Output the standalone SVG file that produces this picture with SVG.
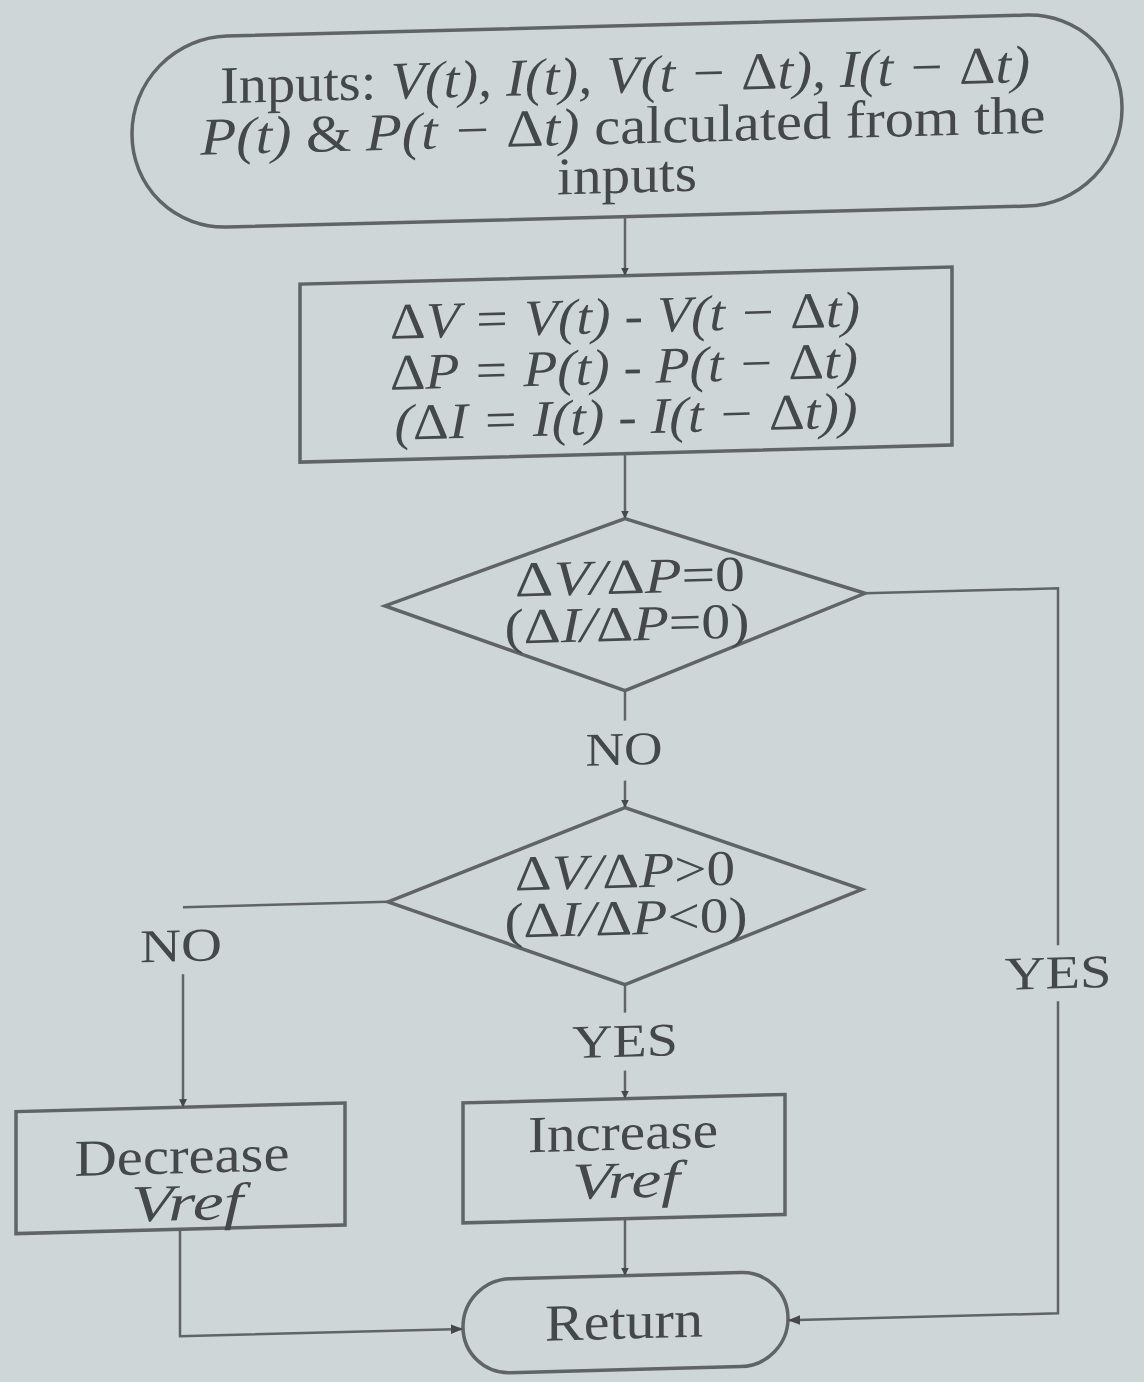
<svg xmlns="http://www.w3.org/2000/svg" width="1144" height="1382" viewBox="0 0 1144 1382">
<defs>
<style>
.shape{fill:none;stroke:#606467;stroke-width:3.5}
.line{fill:none;stroke:#606467;stroke-width:2.5}
.t{font-family:"Liberation Serif","Times New Roman",serif;fill:#45484b;text-anchor:middle}
.i{font-style:italic}
.n{font-style:normal}
</style>
<marker id="ah" viewBox="0 0 10 10" refX="10" refY="5" markerWidth="8" markerHeight="10" orient="auto" markerUnits="userSpaceOnUse">
<path d="M0,0 L10,5 L0,10 z" fill="#45484b"/>
</marker>
<marker id="ah2" viewBox="0 0 10 10" refX="10" refY="5" markerWidth="16" markerHeight="12" orient="auto" markerUnits="userSpaceOnUse">
<path d="M0,1 L10,5 L0,9 z" fill="#45484b"/>
</marker>
</defs>
<rect x="0" y="0" width="1144" height="1382" fill="#cfd6d8"/>
<g transform="translate(0,15) skewY(-1.5)">
<g id="start">
<rect class="shape" x="132" y="27" width="990" height="191" rx="95" ry="95"/>
<text class="t" x="625" y="94" font-size="53" textLength="810" lengthAdjust="spacingAndGlyphs">Inputs: <tspan class="i">V(t), I(t), V(t − <tspan class="n">Δ</tspan>t), I(t − <tspan class="n">Δ</tspan>t)</tspan></text>
<text class="t" x="623" y="145" font-size="53" textLength="845" lengthAdjust="spacingAndGlyphs"><tspan class="i">P(t)</tspan> &amp; <tspan class="i">P(t − <tspan class="n">Δ</tspan>t)</tspan> calculated from the</text>
<text class="t" x="627" y="194" font-size="53" textLength="140" lengthAdjust="spacingAndGlyphs">inputs</text>
</g>
<g id="compute">
<rect class="shape" x="300" y="277" width="652" height="178"/>
<text class="t i" x="625" y="334" font-size="51" textLength="470" lengthAdjust="spacingAndGlyphs"><tspan class="n">Δ</tspan>V = V(t) - V(t − <tspan class="n">Δ</tspan>t)</text>
<text class="t i" x="624" y="385" font-size="51" textLength="468" lengthAdjust="spacingAndGlyphs"><tspan class="n">Δ</tspan>P = P(t) - P(t − <tspan class="n">Δ</tspan>t)</text>
<text class="t i" x="626" y="435" font-size="51" textLength="463" lengthAdjust="spacingAndGlyphs">(<tspan class="n">Δ</tspan>I = I(t) - I(t − <tspan class="n">Δ</tspan>t))</text>
</g>
<g id="decision1">
<polygon class="shape" points="625,520 865,601 625,692 385,601"/>
<text class="t i" x="630" y="595" font-size="50" textLength="230" lengthAdjust="spacingAndGlyphs"><tspan class="n">Δ</tspan>V/<tspan class="n">Δ</tspan>P<tspan class="n">=0</tspan></text>
<text class="t i" x="627" y="642" font-size="50" textLength="245" lengthAdjust="spacingAndGlyphs"><tspan class="n">(Δ</tspan>I/<tspan class="n">Δ</tspan>P<tspan class="n">=0)</tspan></text>
</g>
<g id="decision2">
<polygon class="shape" points="625,809 862,897 625,986 388,897"/>
<text class="t i" x="625" y="889" font-size="50" textLength="220" lengthAdjust="spacingAndGlyphs"><tspan class="n">Δ</tspan>V/<tspan class="n">Δ</tspan>P<tspan class="n">&gt;0</tspan></text>
<text class="t i" x="626" y="936" font-size="50" textLength="243" lengthAdjust="spacingAndGlyphs"><tspan class="n">(Δ</tspan>I/<tspan class="n">Δ</tspan>P<tspan class="n">&lt;0)</tspan></text>
</g>
<g id="decrease">
<rect class="shape" x="16" y="1097" width="329" height="122"/>
<text class="t" x="182" y="1163" font-size="52" textLength="215" lengthAdjust="spacingAndGlyphs">Decrease</text>
<text class="t i" x="187" y="1210" font-size="52" textLength="112" lengthAdjust="spacingAndGlyphs">Vref</text>
</g>
<g id="increase">
<rect class="shape" x="463" y="1100" width="322" height="120"/>
<text class="t" x="623" y="1151" font-size="52" textLength="190" lengthAdjust="spacingAndGlyphs">Increase</text>
<text class="t i" x="626" y="1199" font-size="52" textLength="108" lengthAdjust="spacingAndGlyphs">Vref</text>
</g>
<g id="return">
<rect class="shape" x="463" y="1277" width="325" height="94" rx="47" ry="47"/>
<text class="t" x="624" y="1340" font-size="52" textLength="158" lengthAdjust="spacingAndGlyphs">Return</text>
</g>
<g id="connectors">
<line class="line" x1="625" y1="218" x2="625" y2="277" marker-end="url(#ah)"/>
<line class="line" x1="625" y1="455" x2="625" y2="520" marker-end="url(#ah)"/>
<line class="line" x1="625" y1="692" x2="625" y2="722"/>
<line class="line" x1="625" y1="782" x2="625" y2="809" marker-end="url(#ah)"/>
<polyline class="line" points="388,897 183,897"/>
<line class="line" x1="183" y1="964" x2="183" y2="1097" marker-end="url(#ah)"/>
<line class="line" x1="625" y1="986" x2="625" y2="1014"/>
<line class="line" x1="625" y1="1072" x2="625" y2="1100" marker-end="url(#ah)"/>
<line class="line" x1="625" y1="1220" x2="625" y2="1277" marker-end="url(#ah)"/>
<polyline class="line" points="180,1219 180,1326 463,1326" marker-end="url(#ah2)"/>
<polyline class="line" points="865,601 1058,601 1058,958"/>
<polyline class="line" points="1058,1014 1058,1326 788,1326" marker-end="url(#ah2)"/>
<text class="t" x="624" y="766" font-size="47" textLength="77" lengthAdjust="spacingAndGlyphs">NO</text>
<text class="t" x="181" y="951" font-size="47" textLength="82" lengthAdjust="spacingAndGlyphs">NO</text>
<text class="t" x="625" y="1058" font-size="47" textLength="106" lengthAdjust="spacingAndGlyphs">YES</text>
<text class="t" x="1058" y="1001" font-size="47" textLength="107" lengthAdjust="spacingAndGlyphs">YES</text>
</g>
</g>
</svg>
